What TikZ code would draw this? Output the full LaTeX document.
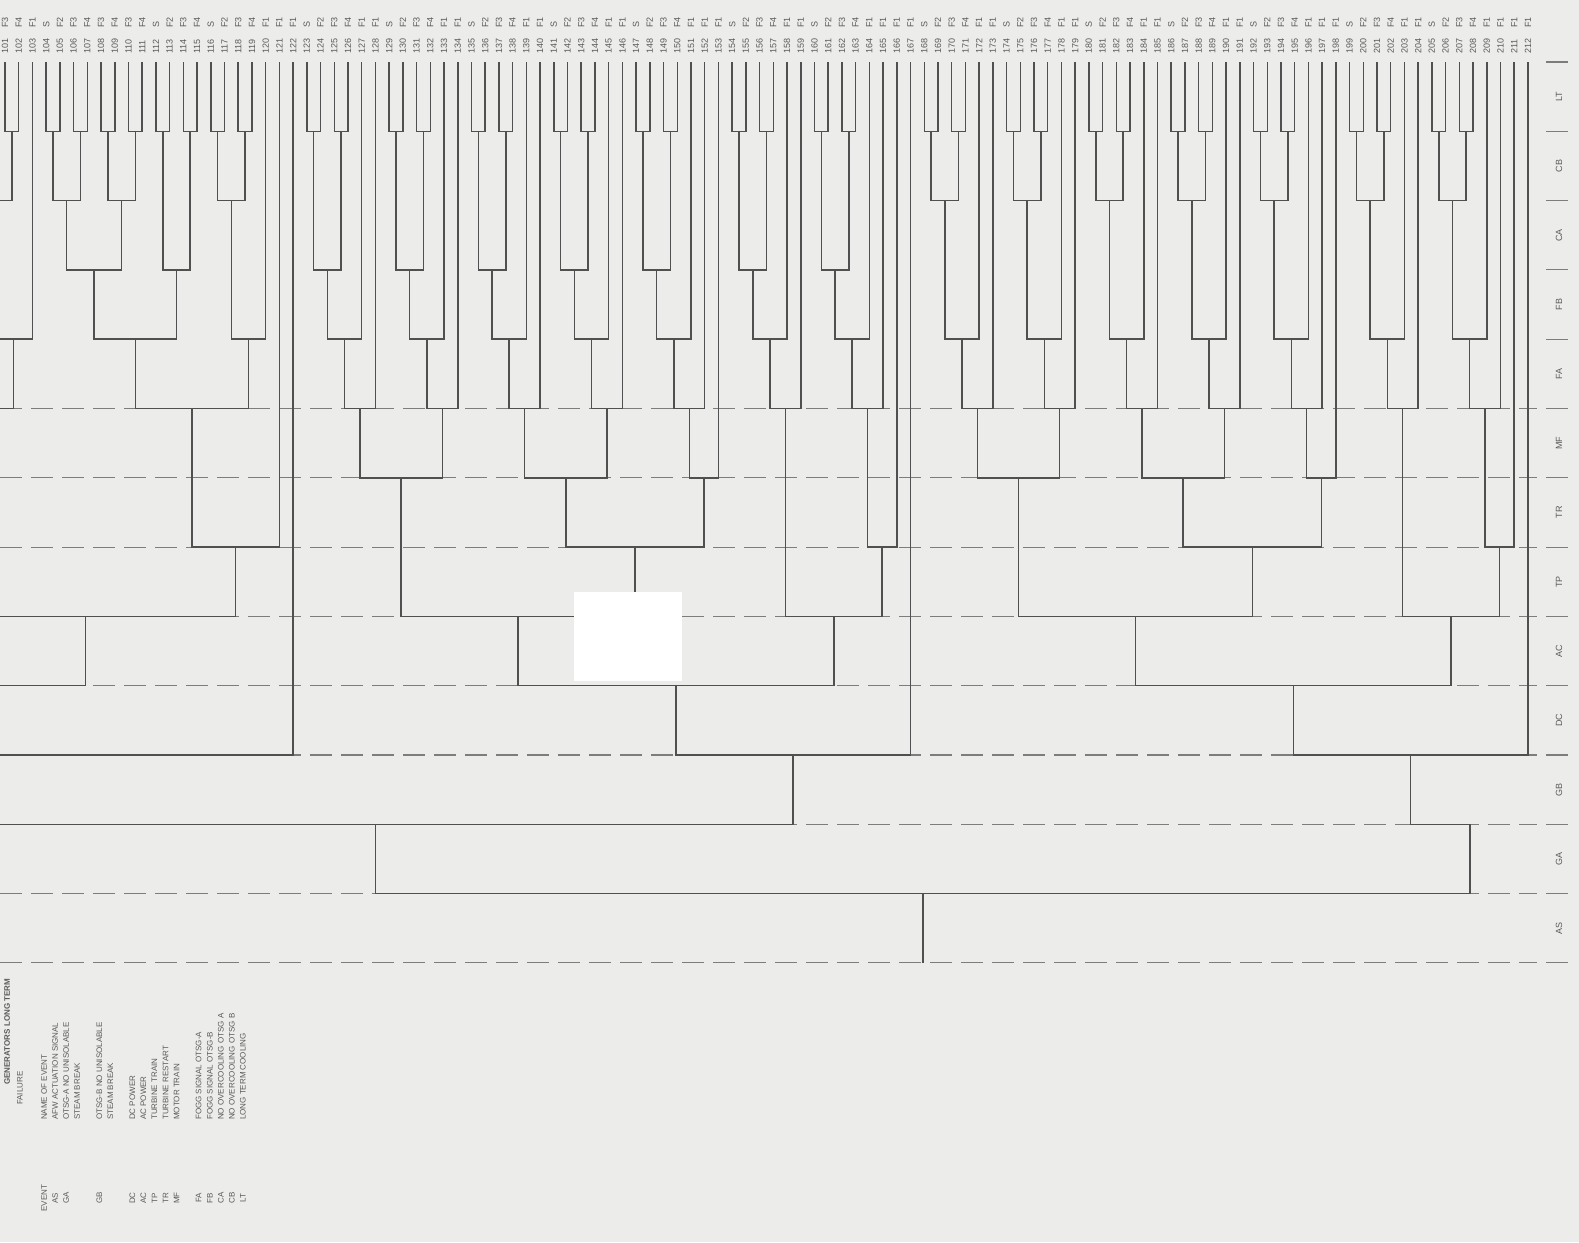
\documentclass[tikz,border=0pt]{standalone}
\usepackage{fontspec}
\setmainfont{Liberation Sans}
\usetikzlibrary{calc}
\definecolor{bg}{RGB}{236,236,234}
\definecolor{ink}{RGB}{80,80,80}
\definecolor{dashc}{RGB}{125,125,125}
\definecolor{txt}{RGB}{90,90,90}
\newcommand{\EJ}[4]{\draw[tree] (#2) -- (#2 |- L#4) -- (#3 |- L#4) -- (#3); \coordinate (#1) at ($(#2 |- L#4)!0.5!(#3 |- L#4)$);}
\begin{document}
\begin{tikzpicture}[x=1pt,y=1pt,
  tree/.style={draw=ink,line width=1.5pt,line join=miter},
  dashline/.style={draw=dashc,line width=1.1pt,dash pattern=on 22pt off 9pt},
  tickline/.style={draw=dashc,line width=1.1pt},
  lab/.style={text=txt,font=\fontsize{9}{9}\selectfont,rotate=90,anchor=west,inner sep=0pt},
  rowlab/.style={text=txt,font=\fontsize{9}{9}\selectfont,rotate=90,anchor=center,inner sep=0pt},
  leg/.style={text=txt,font=\fontsize{8}{8}\selectfont,rotate=90,anchor=west,inner sep=0pt},
  legc/.style={text=txt,font=\fontsize{8}{8}\selectfont,rotate=90,anchor=center,inner sep=0pt}]
\useasboundingbox (0,0) rectangle (1579,-1242);
\fill[bg] (0,0) rectangle (1579,-1242);
\begin{scope}
\clip (0,0) rectangle (1579,-1242);
\foreach \k in {0,...,13} \coordinate (L\k) at (0,{-(62+69.3*\k)});
\foreach \i in {0,...,111} \coordinate (l\i) at ({5+13.72*\i},-62);
% dashed level lines and right ticks
\foreach \k in {5,...,13} \draw[dashline] (L\k) -- ($(L\k)+(1537,0)$);
\foreach \k in {0,...,13} \draw[tickline] ($(L\k)+(1546,0)$) -- ($(L\k)+(1568,0)$);
% phantom branches continuing off the left edge
\coordinate (p1) at ($(L1)+(-20,0)$);
\coordinate (p2) at ($(L3)+(-5.8,0)$);
\coordinate (p3) at ($(L4)+(-30,0)$);
\coordinate (p4) at ($(L7)+(-64.5,0)$);
\coordinate (p5) at ($(L8)+(-40,0)$);
\coordinate (p6) at ($(L9)+(-376.7,0)$);
% ---- left part
\EJ{n0}{l0}{l1}{1}
\EJ{q1}{p1}{n0}{2}
\EJ{q2}{p2}{l2}{4}
\EJ{q3}{p3}{q2}{5}
\EJ{n1}{l3}{l4}{1}
\EJ{n2}{l5}{l6}{1}
\EJ{n3}{n1}{n2}{2}
\EJ{n4}{l7}{l8}{1}
\EJ{n5}{l9}{l10}{1}
\EJ{n6}{n4}{n5}{2}
\EJ{n7}{n3}{n6}{3}
\EJ{n8}{l11}{l12}{1}
\EJ{n9}{l13}{l14}{1}
\EJ{n10}{n8}{n9}{3}
\EJ{n11}{n7}{n10}{4}
\EJ{n12}{l15}{l16}{1}
\EJ{n13}{l17}{l18}{1}
\EJ{n14}{n12}{n13}{2}
\EJ{n15}{n14}{l19}{4}
\EJ{n16}{n11}{n15}{5}
\EJ{n17}{n16}{l20}{7}
\EJ{q4}{p4}{n17}{8}
\EJ{q5}{p5}{q4}{9}
\EJ{q6}{p6}{l21}{10}
% ---- second block
\EJ{n18}{l22}{l23}{1}
\EJ{n19}{l24}{l25}{1}
\EJ{n20}{n18}{n19}{3}
\EJ{n21}{n20}{l26}{4}
\EJ{n22}{n21}{l27}{5}
\EJ{n23}{l28}{l29}{1}
\EJ{n24}{l30}{l31}{1}
\EJ{n25}{n23}{n24}{3}
\EJ{n26}{n25}{l32}{4}
\EJ{n27}{n26}{l33}{5}
\EJ{n28}{n22}{n27}{6}
\EJ{n29}{l34}{l35}{1}
\EJ{n30}{l36}{l37}{1}
\EJ{n31}{n29}{n30}{3}
\EJ{n32}{n31}{l38}{4}
\EJ{n33}{n32}{l39}{5}
\EJ{n34}{l40}{l41}{1}
\EJ{n35}{l42}{l43}{1}
\EJ{n36}{n34}{n35}{3}
\EJ{n37}{n36}{l44}{4}
\EJ{n38}{n37}{l45}{5}
\EJ{n39}{n33}{n38}{6}
\EJ{n40}{l46}{l47}{1}
\EJ{n41}{l48}{l49}{1}
\EJ{n42}{n40}{n41}{3}
\EJ{n43}{n42}{l50}{4}
\EJ{n44}{n43}{l51}{5}
\EJ{n45}{n44}{l52}{6}
\EJ{n46}{n39}{n45}{7}
\EJ{n47}{n28}{n46}{8}
\EJ{n48}{l53}{l54}{1}
\EJ{n49}{l55}{l56}{1}
\EJ{n50}{n48}{n49}{3}
\EJ{n51}{n50}{l57}{4}
\EJ{n52}{n51}{l58}{5}
\EJ{n53}{l59}{l60}{1}
\EJ{n54}{l61}{l62}{1}
\EJ{n55}{n53}{n54}{3}
\EJ{n56}{n55}{l63}{4}
\EJ{n57}{n56}{l64}{5}
\EJ{n58}{n57}{l65}{7}
\EJ{n59}{n52}{n58}{8}
\EJ{n60}{n47}{n59}{9}
\EJ{n61}{n60}{l66}{10}
\EJ{n62}{q6}{n61}{11}
% ---- right half
\EJ{n63}{l67}{l68}{1}
\EJ{n64}{l69}{l70}{1}
\EJ{n65}{n63}{n64}{2}
\EJ{n66}{n65}{l71}{4}
\EJ{n67}{n66}{l72}{5}
\EJ{n68}{l73}{l74}{1}
\EJ{n69}{l75}{l76}{1}
\EJ{n70}{n68}{n69}{2}
\EJ{n71}{n70}{l77}{4}
\EJ{n72}{n71}{l78}{5}
\EJ{n73}{n67}{n72}{6}
\EJ{n74}{l79}{l80}{1}
\EJ{n75}{l81}{l82}{1}
\EJ{n76}{n74}{n75}{2}
\EJ{n77}{n76}{l83}{4}
\EJ{n78}{n77}{l84}{5}
\EJ{n79}{l85}{l86}{1}
\EJ{n80}{l87}{l88}{1}
\EJ{n81}{n79}{n80}{2}
\EJ{n82}{n81}{l89}{4}
\EJ{n83}{n82}{l90}{5}
\EJ{n84}{n78}{n83}{6}
\EJ{n85}{l91}{l92}{1}
\EJ{n86}{l93}{l94}{1}
\EJ{n87}{n85}{n86}{2}
\EJ{n88}{n87}{l95}{4}
\EJ{n89}{n88}{l96}{5}
\EJ{n90}{n89}{l97}{6}
\EJ{n91}{n84}{n90}{7}
\EJ{n92}{n73}{n91}{8}
\EJ{n93}{l98}{l99}{1}
\EJ{n94}{l100}{l101}{1}
\EJ{n95}{n93}{n94}{2}
\EJ{n96}{n95}{l102}{4}
\EJ{n97}{n96}{l103}{5}
\EJ{n98}{l104}{l105}{1}
\EJ{n99}{l106}{l107}{1}
\EJ{n100}{n98}{n99}{2}
\EJ{n101}{n100}{l108}{4}
\EJ{n102}{n101}{l109}{5}
\EJ{n103}{n102}{l110}{7}
\EJ{n104}{n97}{n103}{8}
\EJ{n105}{n92}{n104}{9}
\EJ{n106}{n105}{l111}{10}
\coordinate (j1) at ($(L11)+(1470,0)$);
\draw[tree] (n106) -- (n106 |- L11) -- (j1);
\EJ{root}{n62}{j1}{12}
\draw[tree] (root) -- (root |- L13);
% erased patch of the scan
\fill[white] (574,-592) rectangle (682,-681);
\end{scope}
% ---- end state labels
\foreach \i/\c in {0/F3,1/F4,2/F1,3/S,4/F2,5/F3,6/F4,7/F3,8/F4,9/F3,10/F4,11/S,12/F2,13/F3,14/F4,15/S,16/F2,17/F3,18/F4,19/F1,20/F1,21/F1,
 22/S,23/F2,24/F3,25/F4,26/F1,27/F1,28/S,29/F2,30/F3,31/F4,32/F1,33/F1,34/S,35/F2,36/F3,37/F4,38/F1,39/F1,
 40/S,41/F2,42/F3,43/F4,44/F1,45/F1,46/S,47/F2,48/F3,49/F4,50/F1,51/F1,52/F1,53/S,54/F2,55/F3,56/F4,57/F1,58/F1,
 59/S,60/F2,61/F3,62/F4,63/F1,64/F1,65/F1,66/F1,67/S,68/F2,69/F3,70/F4,71/F1,72/F1,73/S,74/F2,75/F3,76/F4,77/F1,78/F1,
 79/S,80/F2,81/F3,82/F4,83/F1,84/F1,85/S,86/F2,87/F3,88/F4,89/F1,90/F1,91/S,92/F2,93/F3,94/F4,95/F1,96/F1,97/F1,
 98/S,99/F2,100/F3,101/F4,102/F1,103/F1,104/S,105/F2,106/F3,107/F4,108/F1,109/F1,110/F1,111/F1}
 {\pgfmathtruncatemacro{\num}{101+\i}
  \node[lab] (tn\i) at ($(l\i)+(0,8)$) {\num};
  \node[lab] (tc\i) at ($(l\i)+(0,34)$) {\c};}
% ---- row labels on the right
\foreach \k/\t in {0/LT,1/CB,2/CA,3/FB,4/FA,5/MF,6/TR,7/TP,8/AC,9/DC,10/GB,11/GA,12/AS}
  \node[rowlab] (r\k) at (1559,{-(62+69.3*(\k+0.5))}) {\t};
% ---- legend
\node[leg,font=\bfseries\fontsize{8}{8}\selectfont] (h1) at (7,-1085) {GENERATORS LONG TERM};
\node[leg] (h2) at (20,-1105) {FAILURE};
\foreach \s/\c/\t [count=\m] in {0/EVENT/NAME OF EVENT,1/AS/AFW ACTUATION SIGNAL,2/GA/OTSG-A NO UNISOLABLE,3//STEAM BREAK,
  5/GB/OTSG-B NO UNISOLABLE,6//STEAM BREAK,8/DC/DC POWER,9/AC/AC POWER,10/TP/TURBINE  TRAIN,11/TR/TURBINE RESTART,
  12/MF/MOTOR TRAIN,14/FA/FOGG SIGNAL OTSG-A,15/FB/FOGG SIGNAL OTSG-B,16/CA/NO OVERCOOLING OTSG A,17/CB/NO OVERCOOLING OTSG B,
  18/LT/LONG TERM COOLING}
 {\node[legc] (lc\m) at ({44+11.05*\s},-1198) {\c};
  \node[leg] (ln\m) at ({44+11.05*\s},-1120) {\t};}
\end{tikzpicture}
\end{document}
